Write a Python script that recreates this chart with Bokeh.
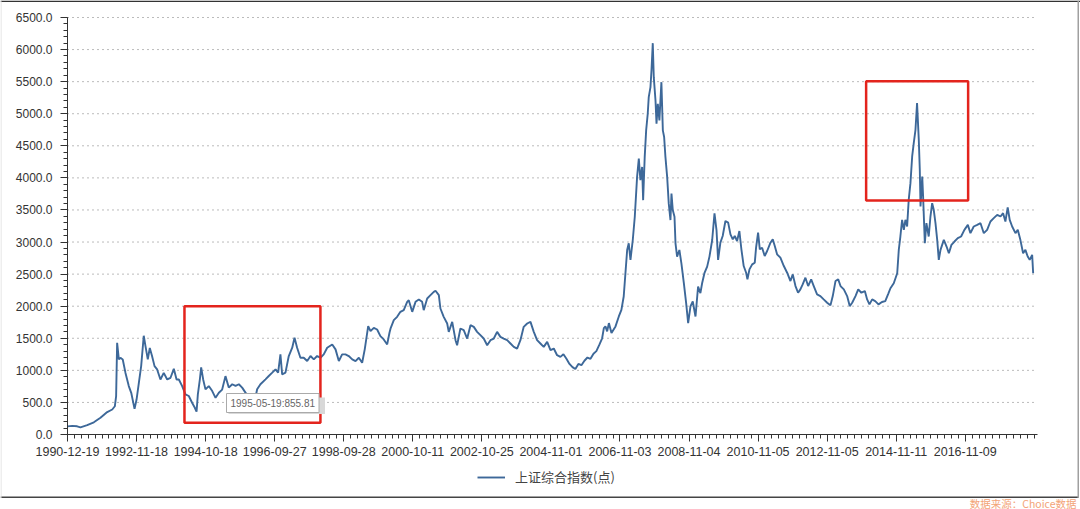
from bokeh.plotting import figure
from bokeh.models import (Range1d, FixedTicker, PrintfTickFormatter, Legend,
                          LegendItem, Label, BoxAnnotation)
from bokeh.embed import file_html
from bokeh.resources import INLINE

# ---- data: trading-day index since 1990-12-19 and index level (points) ----
trading_day = [
    0, 33, 67, 90, 137, 183, 229, 276, 311, 329, 338, 345, 357, 368, 384, 403,
    426, 443, 466, 480, 496, 512, 530, 542, 558, 572, 588, 605, 623, 646, 669,
    693, 716, 739, 758, 774, 797, 820, 843, 866, 885, 897, 906, 920, 929, 943,
    959, 982, 1006, 1029, 1052, 1075, 1098, 1121, 1145, 1168, 1191, 1214, 1237,
    1260, 1284, 1307, 1318, 1341, 1376, 1399, 1423, 1446, 1464, 1480, 1492,
    1515, 1538, 1562, 1578, 1596, 1619, 1642, 1666, 1689, 1712, 1735, 1758,
    1781, 1805, 1840, 1863, 1886, 1909, 1932, 1955, 1979, 2002, 2025, 2048,
    2066, 2090, 2106, 2129, 2152, 2175, 2198, 2222, 2238, 2245, 2268, 2291,
    2314, 2337, 2361, 2372, 2396, 2419, 2442, 2465, 2476, 2500, 2523, 2546,
    2558, 2581, 2592, 2615, 2639, 2650, 2674, 2697, 2708, 2731, 2754, 2778,
    2801, 2824, 2847, 2870, 2893, 2917, 2940, 2963, 2986, 3009, 3032, 3056,
    3079, 3102, 3125, 3148, 3171, 3195, 3218, 3241, 3264, 3287, 3310, 3334,
    3357, 3380, 3403, 3426, 3447, 3468, 3489, 3510, 3530, 3551, 3572, 3593,
    3614, 3635, 3656, 3676, 3697, 3716, 3728, 3739, 3751, 3763, 3781, 3809,
    3832, 3850, 3866, 3878, 3890, 3901, 3913, 3929, 3943, 3959, 3971, 3982,
    3994, 4001, 4012, 4022, 4033, 4040, 4052, 4059, 4068, 4075, 4087, 4094,
    4103, 4114, 4128, 4138, 4147, 4156, 4168, 4179, 4191, 4198, 4207, 4219,
    4226, 4237, 4253, 4267, 4284, 4300, 4314, 4330, 4346, 4365, 4383, 4399,
    4411, 4427, 4446, 4462, 4481, 4497, 4511, 4522, 4538, 4554, 4573, 4592,
    4608, 4624, 4638, 4654, 4670, 4684, 4700, 4717, 4726, 4740, 4759, 4777,
    4786, 4800, 4812, 4828, 4846, 4863, 4886, 4902, 4916, 4932, 4955, 4979,
    5002, 5025, 5041, 5060, 5078, 5094, 5110, 5129, 5148, 5169, 5187, 5210,
    5233, 5256, 5280, 5303, 5319, 5338, 5357, 5373, 5396, 5419, 5437, 5454,
    5477, 5496, 5518, 5542, 5558, 5574, 5593, 5614, 5637, 5661, 5684, 5706,
    5720, 5743, 5767, 5778, 5789, 5801, 5813, 5824, 5836, 5847, 5859, 5871,
    5882, 5894, 5905, 5917, 5924, 5929, 5941, 5947, 5959, 5970, 5986, 5998,
    6010, 6021, 6033, 6045, 6056, 6068, 6091, 6110, 6126, 6144, 6165, 6188,
    6211, 6234, 6258, 6276, 6299, 6323, 6346, 6369, 6392, 6415, 6438, 6462,
    6485, 6503, 6519, 6535, 6549, 6566, 6589, 6605, 6623, 6642, 6658, 6674,
    6688, 6705, 6712,
]
index_level = [
    127, 135, 128, 112, 145, 190, 260, 350, 390, 440, 600, 1429, 1170, 1195,
    1170, 960, 755, 650, 400, 545, 805, 1066, 1540, 1377, 1170, 1350, 1220,
    1066, 1014, 858, 960, 858, 884, 1024, 858, 858, 755, 625, 600, 495, 417,
    355, 625, 858, 1045, 858, 703, 755, 677, 572, 650, 700, 910, 731, 783, 757,
    783, 731, 653, 601, 560, 580, 705, 783, 860, 912, 964, 1016, 964, 1249,
    938, 964, 1223, 1353, 1508, 1353, 1197, 1197, 1145, 1223, 1171, 1223,
    1197, 1249, 1353, 1404, 1327, 1145, 1249, 1249, 1223, 1171, 1145, 1197,
    1119, 1327, 1689, 1611, 1663, 1637, 1534, 1482, 1404, 1586, 1650, 1782,
    1834, 1912, 1938, 2068, 2094, 1912, 2068, 2105, 2068, 1938, 2120, 2172,
    2224, 2240, 2172, 1964, 1834, 1730, 1600, 1756, 1470, 1392, 1652, 1626,
    1496, 1704, 1678, 1600, 1548, 1496, 1392, 1470, 1496, 1600, 1522, 1496,
    1470, 1418, 1366, 1340, 1470, 1678, 1730, 1756, 1600, 1470, 1418, 1366,
    1444, 1314, 1340, 1236, 1210, 1250, 1180, 1100, 1050, 1020, 1100, 1080,
    1150, 1200, 1180, 1260, 1300, 1400, 1500, 1659, 1685, 1607, 1737, 1581,
    1685, 1840, 1944, 2151, 2514, 2876, 2980, 2721, 3032, 3394, 4016, 4301,
    3964, 4171, 3653, 4327, 4741, 5000, 5259, 5415, 5674, 6100, 5570, 5207,
    4845, 5156, 4897, 5492, 4741, 4637, 4327, 4016, 3602, 3343, 3757, 3498,
    3394, 2980, 2773, 2876, 2669, 2358, 2047, 1737, 1996, 2073, 1840, 2307,
    2203, 2358, 2514, 2617, 2773, 3032, 3446, 3187, 2721, 2990, 3094, 3328,
    3302, 3120, 3042, 3094, 3016, 3172, 2886, 2626, 2522, 2418, 2574, 2652,
    2678, 2912, 3146, 2886, 2912, 2782, 2860, 2990, 3042, 2938, 2808, 2756,
    2626, 2522, 2392, 2496, 2314, 2210, 2262, 2340, 2444, 2314, 2418, 2314,
    2184, 2158, 2106, 2054, 2013, 2158, 2392, 2418, 2314, 2262, 2158, 2002,
    2054, 2158, 2262, 2210, 2236, 2106, 2028, 2106, 2080, 2028, 2065, 2080,
    2200, 2280, 2358, 2514, 2878, 3086, 3346, 3190, 3346, 3242, 3658, 3918,
    4334, 4542, 4750, 5166, 4594, 4126, 3554, 4022, 3710, 2982, 3294, 3086,
    3398, 3606, 3502, 3294, 3034, 2722, 2878, 3034, 2930, 2826, 2956, 3008,
    3060, 3086, 3190, 3268, 3138, 3242, 3268, 3294, 3138, 3190, 3320, 3372,
    3424, 3398, 3450, 3320, 3540, 3346, 3242, 3138, 3190, 3034, 2826, 2878,
    2774, 2722, 2800, 2514,
]
series_name = "上证综合指数(点)"

x_tick_days = [0, 480, 960, 1440, 1920, 2400, 2880, 3360, 3840, 4320, 4800,
               5280, 5760, 6240]
x_tick_labels = ["1990-12-19", "1992-11-18", "1994-10-18", "1996-09-27",
                 "1998-09-28", "2000-10-11", "2002-10-25", "2004-11-01",
                 "2006-11-03", "2008-11-04", "2010-11-05", "2012-11-05",
                 "2014-11-11", "2016-11-09"]
x_minor_days = list(range(0, 6721, 48))
y_ticks = list(range(0, 6501, 500))
y_minor = list(range(0, 6501, 100))
x_axis_end = 6742
y_axis_end = 6500

# highlighted periods (trading day range, level range)
highlight_boxes = [(813, 1758, 182, 2000), (5551, 6260, 3648, 5507)]
tooltip_text = "1995-05-19:855.81"
source_text = "数据来源：Choice数据"

NUM_FONT = "Liberation Sans"
CJK_FONT = "Noto Sans CJK SC"

W, H = 1080, 509
p = figure(width=W, height=H, output_backend="svg", toolbar_location=None,
           x_range=Range1d(-465.7, 7041), y_range=Range1d(-1169, 6765),
           min_border=0)
p.background_fill_color = "white"
p.border_fill_color = "white"
p.outline_line_color = None

# dotted horizontal grid lines at the major level ticks
grid_levels = y_ticks[1:]
p.segment(x0=[0] * len(grid_levels), y0=grid_levels,
          x1=[x_axis_end] * len(grid_levels), y1=grid_levels,
          line_color="#777777", line_dash="1 4", line_width=1)

r = p.line(trading_day, index_level, line_color="#3d6899", line_width=1.9)

# axes (drawn at the data origin)
p.xaxis.ticker = FixedTicker(ticks=x_tick_days, minor_ticks=x_minor_days)
p.xaxis.major_label_overrides = dict(zip(x_tick_days, x_tick_labels))
p.yaxis.ticker = FixedTicker(ticks=y_ticks, minor_ticks=y_minor)
p.yaxis.formatter = PrintfTickFormatter(format="%.1f")
p.xaxis.fixed_location = 0
p.yaxis.fixed_location = 0
p.xaxis.bounds = (0, x_axis_end)
p.yaxis.bounds = (0, y_axis_end)
for ax in (p.xaxis[0], p.yaxis[0]):
    ax.axis_line_color = "#333333"
    ax.major_tick_line_color = "#333333"
    ax.minor_tick_line_color = "#333333"
    ax.major_tick_in = 0
    ax.minor_tick_in = 0
    ax.major_tick_out = 7
    ax.minor_tick_out = 4
    ax.major_label_text_font = NUM_FONT
    ax.major_label_text_color = "#333333"
p.xaxis.major_label_text_font_size = "12.5px"
p.yaxis.major_label_text_font_size = "12px"
p.xaxis.major_label_standoff = 5
p.yaxis.major_label_standoff = 8
p.xgrid.visible = False
p.ygrid.visible = False

# highlight boxes
for (l, rt, b, t) in highlight_boxes:
    p.add_layout(BoxAnnotation(left=l, right=rt, bottom=b, top=t,
                               fill_alpha=0, line_color="#e3241d",
                               line_width=2.5, line_alpha=1))


def frame_bar(l, r_, b, t, color):
    p.add_layout(BoxAnnotation(left=l, right=r_, bottom=b, top=t,
                               left_units="screen", right_units="screen",
                               top_units="screen", bottom_units="screen",
                               fill_color=color, fill_alpha=1, line_alpha=0))


# soft shadow of the tooltip, then the tooltip-like label
frame_bar(228, 324.5, H - 413.5, H - 397, "#d8d8d8")
p.add_layout(Label(x=226, y=H - 412, x_units="screen", y_units="screen",
                   text=tooltip_text, text_font=NUM_FONT, text_font_size="10px",
                   text_color="#666666", background_fill_color="white",
                   border_line_color="#aaaaaa", padding=4,
                   text_align="left", text_baseline="bottom"))

# legend under the x axis
legend = Legend(items=[LegendItem(label=series_name, renderers=[r])],
                location=(477, H - 486), orientation="horizontal",
                border_line_alpha=0, background_fill_alpha=0,
                label_text_font=CJK_FONT, label_text_font_size="13px",
                label_text_color="#444444", glyph_width=28, glyph_height=16,
                label_standoff=10, padding=0, margin=0)
p.add_layout(legend, "center")

# outer frame lines of the picture
frame_bar(0, W, H - 1.5, H, "#333333")
frame_bar(0, 1078.5, H - 497.5, H - 496, "#444444")
frame_bar(1077, 1078.5, H - 497.5, H, "#a0a0a0")
frame_bar(0, 1, H - 497.5, H, "#dddddd")

# source note
p.add_layout(Label(x=1076, y=H - 502.5, x_units="screen", y_units="screen",
                   text=source_text, text_font=CJK_FONT,
                   text_font_size="10.5px", text_color="#f3a477",
                   text_align="right", text_baseline="middle"))

open("out.html", "w").write(file_html(p, INLINE))
